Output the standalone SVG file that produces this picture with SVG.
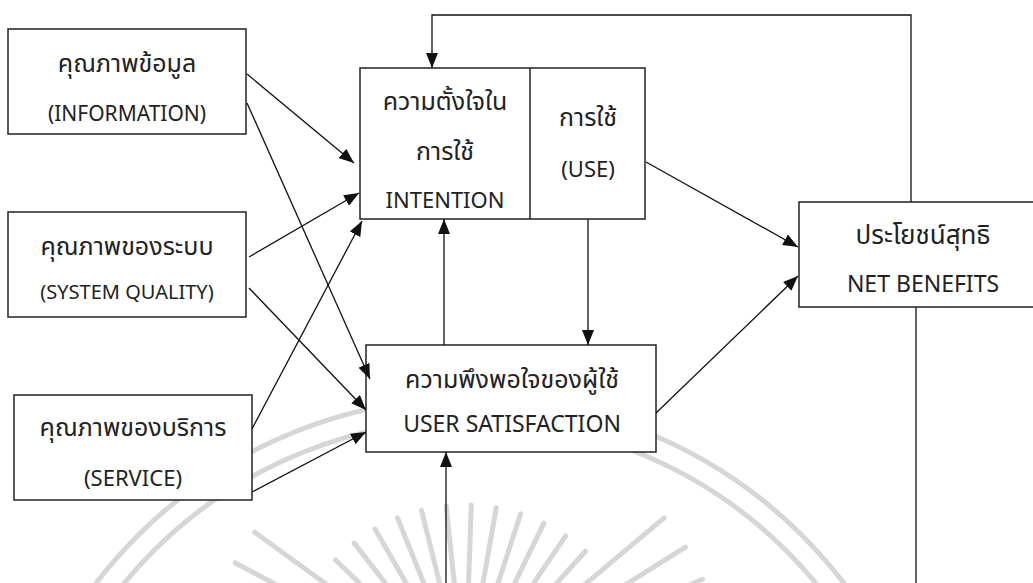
<svg xmlns="http://www.w3.org/2000/svg" xmlns:xlink="http://www.w3.org/1999/xlink" width="1033" height="583" viewBox="0 0 1033 583">
<style>
.box{fill:#fff;stroke:#222;stroke-width:1.5}
.boxn{fill:none;stroke:#222;stroke-width:1.5}
.t{font-family:"Noto Sans Thai","Leelawadee UI","Noto Sans","Liberation Sans","DejaVu Sans",sans-serif;font-size:22px;fill:#222;text-anchor:middle}
.th{font-size:25px}
.c{fill:none;stroke:#111;stroke-width:1.3}
.ca{fill:none;stroke:#111;stroke-width:1.3;marker-end:url(#ah)}
.wm{fill:none;stroke:#d6d6d6;stroke-width:5;stroke-linecap:round}
</style>
<defs>
<marker id="ah" markerUnits="userSpaceOnUse" markerWidth="16" markerHeight="12" refX="15" refY="6" orient="auto">
<path d="M0,0 L15,6 L0,12 z" fill="#111"/>
</marker>
<line id="ray" x1="0" y1="-75" x2="0" y2="-180"/>
<line id="rayl" x1="0" y1="-110" x2="0" y2="-260"/>
</defs>
<rect width="1033" height="583" fill="#fff"/>
<g id="watermark" class="wm">
<circle cx="470" cy="868" r="470"/>
<circle cx="470" cy="868" r="448"/>
<g transform="translate(465,685)">
<use xlink:href="#rayl" transform="rotate(-78)"/>
<use xlink:href="#rayl" transform="rotate(-70)"/>
<use xlink:href="#rayl" transform="rotate(-62)"/>
<use xlink:href="#rayl" transform="rotate(-54)"/>
<use xlink:href="#ray" transform="rotate(-46)"/>
<use xlink:href="#ray" transform="rotate(-38)"/>
<use xlink:href="#ray" transform="rotate(-30)"/>
<use xlink:href="#ray" transform="rotate(-22)"/>
<use xlink:href="#ray" transform="rotate(-14)"/>
<use xlink:href="#ray" transform="rotate(-6)"/>
<use xlink:href="#ray" transform="rotate(2)"/>
<use xlink:href="#ray" transform="rotate(10)"/>
<use xlink:href="#ray" transform="rotate(18)"/>
<use xlink:href="#ray" transform="rotate(26)"/>
<use xlink:href="#ray" transform="rotate(34)"/>
<use xlink:href="#ray" transform="rotate(42)"/>
<use xlink:href="#rayl" transform="rotate(50)"/>
<use xlink:href="#rayl" transform="rotate(58)"/>
<use xlink:href="#rayl" transform="rotate(66)"/>
<use xlink:href="#rayl" transform="rotate(74)"/>
</g>
</g>
<g id="information">
<rect class="box" x="8" y="29" width="238" height="105"/>
<text class="t th" x="127" y="72">คุณภาพข้อมูล</text>
<text class="t" x="127" y="121" style="font-size:21px">(INFORMATION)</text>
</g>
<g id="system-quality">
<rect class="box" x="8" y="212" width="238" height="105"/>
<text class="t th" x="127" y="255">คุณภาพของระบบ</text>
<text class="t" x="127" y="299" style="font-size:20px">(SYSTEM QUALITY)</text>
</g>
<g id="service">
<rect class="box" x="14" y="395" width="238" height="105"/>
<text class="t th" x="133" y="436">คุณภาพของบริการ</text>
<text class="t" x="133" y="486">(SERVICE)</text>
</g>
<g id="intention-use">
<rect class="box" x="360" y="68" width="285" height="151"/>
<line class="boxn" x1="530" y1="68" x2="530" y2="219"/>
<text class="t th" x="445" y="110">ความตั้งใจใน</text>
<text class="t th" x="445" y="160">การใช้</text>
<text class="t" x="445" y="208">INTENTION</text>
<text class="t th" x="588" y="126">การใช้</text>
<text class="t" x="588" y="177">(USE)</text>
</g>
<g id="user-satisfaction">
<rect class="box" x="366" y="345" width="290" height="107"/>
<text class="t th" x="512" y="388">ความพึงพอใจของผู้ใช้</text>
<text class="t" x="512" y="432" style="font-size:23px">USER SATISFACTION</text>
</g>
<g id="net-benefits">
<rect class="box" x="799" y="202" width="242" height="105"/>
<text class="t th" x="923" y="244" style="font-size:26px">ประโยชน์สุทธิ</text>
<text class="t" x="923" y="292" style="font-size:23px">NET BENEFITS</text>
</g>
<g id="connectors">
<polyline class="ca" points="911,202 911,15 432,15 432,68"/>
<line class="ca" x1="247" y1="74" x2="354" y2="163"/>
<line class="ca" x1="247" y1="103" x2="370" y2="379"/>
<line class="ca" x1="249" y1="257" x2="359" y2="193"/>
<line class="ca" x1="249" y1="288" x2="366" y2="410"/>
<line class="ca" x1="252" y1="429" x2="362" y2="221"/>
<line class="ca" x1="252" y1="492" x2="366" y2="432"/>
<line class="ca" x1="588" y1="219" x2="588" y2="345"/>
<line class="ca" x1="444" y1="345" x2="444" y2="219"/>
<line class="ca" x1="646" y1="162" x2="798" y2="247"/>
<line class="ca" x1="656" y1="413" x2="798" y2="276"/>
<line class="ca" x1="446" y1="583" x2="446" y2="452"/>
<line class="c" x1="916" y1="307" x2="916" y2="583"/>
</g>
</svg>
